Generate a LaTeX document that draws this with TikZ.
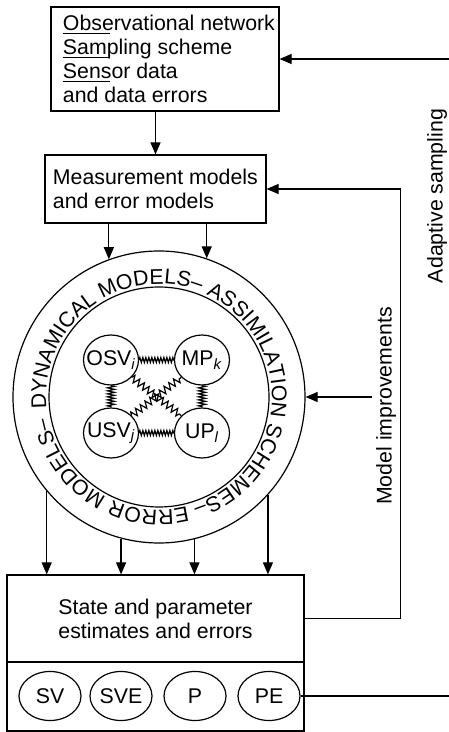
\documentclass[tikz,border=0pt]{standalone}
\usepackage{fontspec}
\setmainfont{Liberation Sans}
\usetikzlibrary{arrows.meta,shapes.geometric,decorations.pathmorphing,decorations.text}

\newcommand{\ringfont}{\fontsize{21.3}{24}\selectfont}
\newcommand{\ulmark}{\makebox[0pt][l]{\rule[-3.5pt]{47pt}{1pt}}}
\newcommand{\squeeze}[1]{\makebox[0pt]{#1}}

\begin{document}
\begin{tikzpicture}[x=1pt,y=1pt,line width=1.2pt,
    font=\ringfont,
    >={Triangle[length=12pt,width=10pt]},
    box/.style={draw,rectangle},
    blob/.style={draw,ellipse,inner sep=0pt,minimum width=55pt,minimum height=50pt},
    bead/.style={draw,ellipse,inner sep=0pt,minimum width=62pt,minimum height=49pt},
    hspring/.style={decorate,decoration={zigzag,segment length=3pt,amplitude=2.5pt}},
    vspring/.style={decorate,decoration={zigzag,segment length=3pt,amplitude=3.5pt}},
    dspring/.style={decorate,decoration={zigzag,segment length=6pt,amplitude=3.5pt}}]
    \useasboundingbox (0,0) rectangle (448,732);

    % data and models
    \node[box,inner xsep=0pt,minimum height=104pt] (obs) at (165,673)
        {\hspace*{12pt}\parbox{216pt}{\raggedright\ulmark Observational network\\
         \ulmark Sampling scheme\\ \ulmark Sensor data\\ and data errors}};
    \node[box,inner xsep=0pt,minimum height=68pt] (meas) at (155.5,543)
        {\hspace*{8pt}\parbox{213pt}{\raggedright Measurement models\\ and error models}};
    \draw[->] (obs.south -| meas.north) -- (meas.north);

    % ring
    \node[draw,circle,inner sep=0pt,minimum size=292pt] (ring) at (159,335) {};
    \draw (ring.center) circle[radius=110];
    \path[decorate,decoration={text along path,
        text={|\ringfont|DYNAMICAL MODELS– ASSIMILATION SCHEMES– ERROR MODELS– }}]
        (ring.center) ++(186:113) arc[start angle=186,end angle=-174,radius=113];

    \node[blob] (osv) at (111,372) {\squeeze{OSV\textsubscript{\textit{i}}}};
    \node[blob] (mp) at (202,372) {\squeeze{MP\textsubscript{\textit{k}}}};
    \node[blob] (usv) at (111,299) {\squeeze{USV\textsubscript{\textit{j}}}};
    \node[blob] (up) at (202,299) {\squeeze{UP\textsubscript{\textit{l}}}};
    \draw[hspring] (osv.east) -- (mp.west);
    \draw[hspring] (usv.east) -- (up.west);
    \draw[vspring] (osv.south) -- (usv.north);
    \draw[vspring] (mp.south) -- (up.north);
    \draw[dspring] (osv.-40) -- (up.140);
    \draw[dspring] (usv.40) -- (mp.-140);

    \foreach \a in {110,71}
        \draw[->] (meas.south -| ring.\a) -- (ring.\a);

    % estimates
    \node[box,minimum width=297pt,minimum height=87pt,align=center] (est) at (155.5,113.5)
        {State and parameter\\ estimates and errors};
    \node[box,minimum width=297pt,minimum height=69pt] (tray) at (155.5,35.5) {};
    \foreach \name/\x in {SV/50,SVE/121,P/195,PE/269}
        \node[bead] (\name) at (\x,36) {\name};

    \foreach \a in {220,255,284,318}
        \draw[->] (ring.\a) -- (ring.\a |- est.north);

    % feedback loops
    \node[rotate=90,inner sep=3pt] (modimp) at (386,326) {Model improvements};
    \draw[->] (est.east) -- ++(96,0) |- (meas.east);
    \draw[->] (modimp.north |- ring.east) -- (ring.east);

    \node[rotate=90,inner sep=1pt] (adapt) at (437,536) {Adaptive sampling};
    \coordinate (rim) at (453,0);
    \draw[->] (PE.east) -- (PE.east -| rim) |- (obs.east);
\end{tikzpicture}
\end{document}
